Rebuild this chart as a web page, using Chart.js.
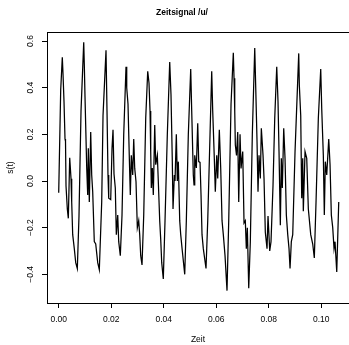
<!DOCTYPE html>
<html>
<head>
<meta charset="utf-8">
<script src="https://cdn.jsdelivr.net/npm/chart.js@4/dist/chart.umd.min.js"></script>
<style>
  html, body { margin: 0; padding: 0; background: #fff; overflow: hidden; }
  canvas { display: block; }
</style>
</head>
<body>
<canvas id="myChart" width="349" height="345"></canvas>
<script>
// time axis (s)
const zeit = [
  0.00000, 0.00076, 0.00137, 0.00164, 0.00202, 0.00240, 0.00259, 0.00278, 0.00328, 0.00366,
  0.00419, 0.00469, 0.00495, 0.00533, 0.00594, 0.00648, 0.00709, 0.00773, 0.00850, 0.00953,
  0.00975, 0.01002, 0.01067, 0.01105, 0.01128, 0.01166, 0.01219, 0.01257, 0.01295, 0.01356,
  0.01410, 0.01486, 0.01547, 0.01638, 0.01688, 0.01802, 0.01840, 0.01878, 0.01905, 0.01981,
  0.02031, 0.02069, 0.02107, 0.02156, 0.02195, 0.02248, 0.02286, 0.02347, 0.02412, 0.02477,
  0.02564, 0.02591, 0.02640, 0.02690, 0.02728, 0.02766, 0.02819, 0.02858, 0.02896, 0.02945,
  0.02995, 0.03048, 0.03086, 0.03124, 0.03174, 0.03239, 0.03315, 0.03391, 0.03440, 0.03479,
  0.03505, 0.03528, 0.03566, 0.03604, 0.03658, 0.03696, 0.03757, 0.03795, 0.03848, 0.03886,
  0.03924, 0.03985, 0.04050, 0.04138, 0.04229, 0.04278, 0.04328, 0.04355, 0.04405, 0.04431,
  0.04481, 0.04519, 0.04557, 0.04610, 0.04648, 0.04709, 0.04801, 0.04862, 0.04938, 0.05029,
  0.05067, 0.05128, 0.05155, 0.05182, 0.05243, 0.05296, 0.05334, 0.05384, 0.05422, 0.05460,
  0.05509, 0.05612, 0.05677, 0.05765, 0.05829, 0.05867, 0.05928, 0.05966, 0.06020, 0.06058,
  0.06119, 0.06172, 0.06222, 0.06271, 0.06336, 0.06412, 0.06477, 0.06565, 0.06652, 0.06679,
  0.06706, 0.06729, 0.06774, 0.06820, 0.06858, 0.06908, 0.06946, 0.07010, 0.07060, 0.07109,
  0.07148, 0.07186, 0.07239, 0.07300, 0.07376, 0.07468, 0.07506, 0.07555, 0.07593, 0.07631,
  0.07681, 0.07719, 0.07784, 0.07822, 0.07871, 0.07936, 0.07974, 0.08039, 0.08088, 0.08165,
  0.08230, 0.08306, 0.08355, 0.08393, 0.08443, 0.08481, 0.08519, 0.08572, 0.08622, 0.08672,
  0.08725, 0.08774, 0.08813, 0.08862, 0.08915, 0.09003, 0.09144, 0.09167, 0.09220, 0.09258,
  0.09296, 0.09319, 0.09384, 0.09449, 0.09510, 0.09601, 0.09677, 0.09738, 0.09803, 0.09891,
  0.09982, 0.10020, 0.10081, 0.10119, 0.10157, 0.10211, 0.10287, 0.10337, 0.10386, 0.10439,
  0.10489, 0.10527, 0.10592, 0.10668
];

// signal values s(t)
const signal = [
  -0.05, 0.39, 0.53, 0.46, 0.34, 0.18, 0.17, -0.02, -0.12, -0.16,
  0.10, 0.01, -0.09, -0.23, -0.29, -0.35, -0.375, -0.15, 0.30, 0.595,
  0.50, 0.36, 0.056, -0.06, 0.14, -0.09, 0.21, 0.026, -0.046, -0.26,
  -0.27, -0.35, -0.38, -0.09, 0.28, 0.56, 0.30, 0.026, -0.074, -0.08,
  0.14, 0.22, 0.03, -0.03, -0.23, -0.146, -0.26, -0.32, -0.146, 0.20,
  0.49, 0.40, 0.33, 0.10, -0.06, 0.11, 0.026, 0.18, 0.054, -0.003,
  -0.20, -0.17, -0.23, -0.32, -0.36, -0.146, 0.27, 0.47, 0.42, 0.30,
  0.126, -0.03, 0.056, -0.06, 0.24, 0.07, 0.11, -0.003, -0.17, -0.25,
  -0.35, -0.42, -0.17, 0.20, 0.51, 0.37, 0.083, -0.12, 0.026, 0.0,
  0.20, 0.0, 0.083, -0.17, -0.23, -0.30, -0.40, -0.17, 0.20, 0.48,
  0.30, 0.026, -0.017, 0.11, 0.056, 0.247, 0.083, 0.08, -0.06, -0.23,
  -0.29, -0.375, -0.17, 0.20, 0.47, 0.30, 0.097, -0.046, 0.11, 0.011,
  0.22, 0.054, -0.17, -0.23, -0.32, -0.47, -0.17, 0.33, 0.55, 0.44,
  0.30, 0.154, 0.11, 0.21, -0.09, 0.20, 0.054, 0.126, -0.18, -0.17,
  -0.29, -0.20, -0.46, -0.26, 0.20, 0.57, 0.40, 0.17, -0.046, 0.11,
  0.011, 0.226, 0.11, 0.011, -0.22, -0.29, -0.15, -0.30, -0.26, -0.017,
  0.27, 0.49, 0.34, 0.126, -0.19, 0.097, -0.03, 0.226, 0.097, -0.146,
  -0.23, -0.29, -0.375, -0.26, -0.23, 0.126, 0.547, 0.41, 0.28, -0.074,
  0.097, -0.13, 0.126, 0.097, -0.12, -0.23, -0.27, -0.33, -0.09, 0.27,
  0.48, 0.31, 0.11, -0.146, 0.083, 0.026, 0.18, 0.07, -0.146, -0.20,
  -0.29, -0.26, -0.39, -0.09
];

const xTicks = [0, 0.02, 0.04, 0.06, 0.08, 0.10];
const yTicks = [-0.4, -0.2, 0, 0.2, 0.4, 0.6];

const fontFamily = '"Liberation Sans", Arial, Helvetica, sans-serif';
const axisFont = { family: fontFamily, size: 8.5 };

const xMin = -0.00446, xMax = 0.11059;
const yMin = -0.5229, yMax = 0.6387;

const ctx = document.getElementById('myChart').getContext('2d');

const chart = new Chart(ctx, {
  type: 'line',
  data: {
    datasets: [{
      data: zeit.map((t, i) => ({ x: t, y: signal[i] })),
      borderColor: '#000',
      borderWidth: 1.25,
      pointRadius: 0,
      tension: 0,
      fill: false
    }]
  },
  options: {
    responsive: false,
    animation: false,
    devicePixelRatio: 1,
    layout: { padding: { left: 15, right: 0, top: 0, bottom: 0 } },
    plugins: {
      legend: { display: false },
      tooltip: { enabled: false },
      title: {
        display: true,
        text: 'Zeitsignal /u/',
        color: '#000',
        font: { family: fontFamily, size: 8.5, weight: 'bold' },
        padding: { top: 8, bottom: 13.8 }
      }
    },
    scales: {
      x: {
        type: 'linear',
        position: 'bottom',
        min: xMin,
        max: xMax,
        afterBuildTicks: s => { s.ticks = xTicks.map(v => ({ value: v })); },
        afterFit: s => { s.height = 42; },
        ticks: {
          callback: v => v.toFixed(2),
          font: axisFont,
          color: '#000',
          padding: 7,
          autoSkip: false,
          maxRotation: 0
        },
        grid: { drawOnChartArea: false, tickLength: 5, color: '#000' },
        border: { display: true, color: '#000', width: 1 },
        title: { display: true, text: 'Zeit', color: '#000', font: axisFont, padding: { top: 0, bottom: 0 } }
      },
      xTop: {
        type: 'linear',
        position: 'top',
        min: xMin,
        max: xMax,
        afterFit: s => { s.height = 0; },
        ticks: { display: false },
        grid: { drawOnChartArea: false, drawTicks: false },
        border: { display: true, color: '#000', width: 1 }
      },
      y: {
        type: 'linear',
        position: 'left',
        min: yMin,
        max: yMax,
        afterBuildTicks: s => { s.ticks = yTicks.map(v => ({ value: v })); },
        afterFit: s => { s.width = 32; },
        ticks: {
          callback: v => (v < 0 ? '\u2212' : '') + Math.abs(v).toFixed(1),
          font: axisFont,
          color: '#000',
          minRotation: 90,
          maxRotation: 90,
          crossAlign: 'center',
          padding: 3,
          autoSkip: false
        },
        grid: { drawOnChartArea: false, tickLength: 5, color: '#000' },
        border: { display: true, color: '#000', width: 1 },
        title: { display: true, text: 's(t)', color: '#000', font: axisFont, padding: { top: -9.4, bottom: 0 } }
      }
    }
  }
});
</script>
</body>
</html>
